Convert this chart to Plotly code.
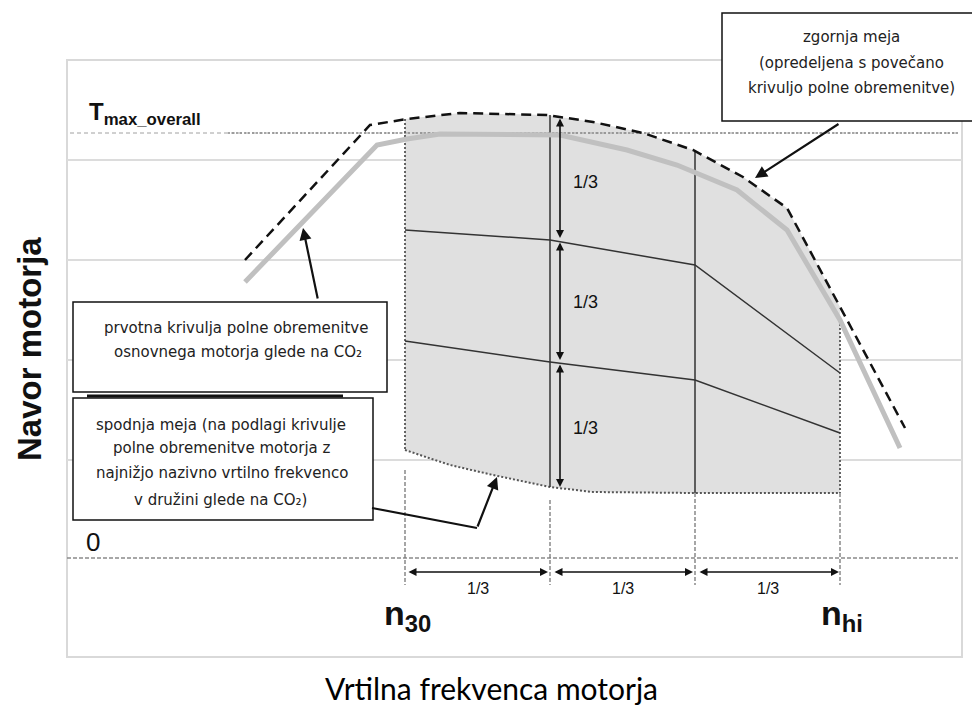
import plotly.graph_objects as go

# ---------------- data (x = engine speed units, y = torque units) ----------------
# original full-load curve of the parent engine
base_speed  = [245, 377, 407, 440, 560, 627, 677, 737, 787, 840, 900]
base_torque = [278, 415, 421, 426, 425, 410, 395, 370, 330, 240, 112]

# upper limit (increased full-load curve)
upper_speed  = [245, 370, 407, 460, 547, 593, 643, 693, 743, 787, 905]
upper_torque = [300, 435, 441, 447, 445, 438, 427, 410, 383, 352, 132]

# lower limit (full-load curve of engine with lowest rated speed)
lower_speed  = [405, 450, 493, 550, 593, 693, 840]
lower_torque = [110, 95, 85, 73, 68, 67, 67]

# shaded region upper boundary between n30 and nhi
region_top_speed  = [405, 460, 547, 593, 643, 693, 743, 787, 840]
region_top_torque = [441, 447, 445, 438, 427, 410, 383, 352, 253]

# interior 1/3 lines
mid_hi_speed  = [405, 550, 695, 840]
mid_hi_torque = [330, 320, 295, 187]
mid_lo_speed  = [405, 550, 695, 840]
mid_lo_torque = [219, 198, 180, 127]

# speed points
n30, n_a, n_b, nhi = 405, 550, 695, 840
T_MAX_OVERALL = 427
T_ZERO = 2
gridline_torque = [100, 200, 300, 400]

third_label = "1/3"
x_title = "Vrtilna frekvenca motorja"
y_title = "Navor motorja"

# ---------------- figure ----------------
# page body has an 8px margin; figure is sized so it ends at the window edge
OFF = 8
W, H = 980 - OFF, 715 - OFF
PL, PR, PT, PB = 67, 962, 60, 657          # plot area in window pixels
ML, MT = PL - OFF, PT - OFF
MR, MB = W + OFF - PR, H + OFF - PB
X0, X1 = 67, 962
Y0, Y1 = -97, 500

def P(xp, yp):
    """window pixel position -> paper coords for layout items"""
    return (xp - PL) / (PR - PL), (PB - yp) / (PB - PT)

fig = go.Figure()

def line(x, y, color, width, dash="solid", **kw):
    fig.add_trace(go.Scatter(x=x, y=y, mode="lines", line=dict(color=color, width=width, dash=dash),
                             hoverinfo="skip", showlegend=False, **kw))

# shaded region
fig.add_trace(go.Scatter(
    x=region_top_speed + [nhi] + lower_speed[::-1],
    y=region_top_torque + [lower_torque[-1]] + lower_torque[::-1],
    fill="toself", fillcolor="#e0e0e0", mode="none", hoverinfo="skip", showlegend=False))

# reference lines
line([70, 958], [T_MAX_OVERALL, T_MAX_OVERALL], "#a0a0a0", 1, "4px,3px")
line([228, 958], [T_MAX_OVERALL, T_MAX_OVERALL], "#8a8a8a", 1.6, "2px,2px")
line([67, 958], [T_ZERO, T_ZERO], "#8a8a8a", 1.6, "4px,2px")

# boundary dotted lines
line([n30, n30], [region_top_torque[0], lower_torque[0]], "#555555", 1.8, "2px,2px")
line([nhi, nhi], [region_top_torque[-1] - 13, lower_torque[-1]], "#555555", 1.8, "2px,2px")
line(lower_speed, lower_torque, "#555555", 2, "2px,2px")

# lower dotted verticals
line([n30, n30], [90, -25], "#777777", 1.3, "4px,2px")
line([n_a, n_a], [60, -25], "#777777", 1.3, "4px,2px")
line([n_b, n_b], [67, -25], "#777777", 1.3, "4px,2px")
line([nhi, nhi], [67, -25], "#777777", 1.3, "4px,2px")

# interior lines
line(mid_hi_speed, mid_hi_torque, "#333333", 1.5)
line(mid_lo_speed, mid_lo_torque, "#333333", 1.5)
line([n_a, n_a], [445, 73], "#333333", 1.5)
line([n_b, n_b], [410, 67], "#333333", 1.5)

# curves
line(base_speed, base_torque, "#c0c0c0", 5)
line(upper_speed, upper_torque, "#111111", 2.5, "10px,6px")

annotations = []
shapes = []

def dbl_arrow(x0, y0, x1, y1):
    annotations.append(dict(x=x1, y=y1, ax=x0, ay=y0, xref="x", yref="y", axref="x", ayref="y",
                            text="", showarrow=True, arrowhead=2, startarrowhead=2,
                            arrowside="end+start", arrowsize=1, startarrowsize=1,
                            arrowwidth=1.6, arrowcolor="#111111"))

def arrow(x0, y0, x1, y1):
    annotations.append(dict(x=x1, y=y1, ax=x0, ay=y0, xref="x", yref="y", axref="x", ayref="y",
                            text="", showarrow=True, arrowhead=2, arrowsize=1.1,
                            arrowwidth=2.2, arrowcolor="#111111"))

def text(xp, yp, s, size, family="Liberation Sans", color="#111111", angle=0, **kw):
    xx, yy = P(xp, yp)
    annotations.append(dict(x=xx, y=yy, xref="paper", yref="paper", text=s, showarrow=False,
                            textangle=angle, xanchor="center", yanchor="middle",
                            font=dict(family=family, size=size, color=color), **kw))

def box(x0p, y0p, x1p, y1p, width=1.5):
    a, b = P(x0p, y0p)
    c, d = P(x1p, y1p)
    shapes.append(dict(type="rect", xref="paper", yref="paper", x0=a, y0=d, x1=c, y1=b,
                       line=dict(color="#111111", width=width), fillcolor="white", layer="above"))

# vertical 1/3 arrows at speed 560
dbl_arrow(560, 443, 560, 322)
dbl_arrow(560, 319, 560, 200)
dbl_arrow(560, 197, 560, 73)
text(585, 182, third_label, 18)
text(585, 302, third_label, 18)
text(585, 428, third_label, 18)

# horizontal 1/3 arrows
dbl_arrow(407, -12, 548, -12)
dbl_arrow(553, -12, 693, -12)
dbl_arrow(698, -12, 839, -12)
text(478, 588, third_label, 16)
text(623, 588, third_label, 16)
text(768, 588, third_label, 16)

# frame
shapes.append(dict(type="rect", xref="paper", yref="paper", x0=0, y0=0, x1=1, y1=1,
                   line=dict(color="#d9d9d9", width=2), layer="below"))

# boxes
box(722, 13, 973, 121)
box(73, 302, 387, 392)
box(73, 398, 373, 520)
a, b = P(87, 396); c, _ = P(343, 396)
shapes.append(dict(type="line", xref="paper", yref="paper", x0=a, x1=c, y0=b, y1=b,
                   line=dict(color="#111111", width=3), layer="above"))

# arrows from boxes
arrow(840, 437, 755, 382)
arrow(318, 260, 303, 332)
shapes.append(dict(type="path", xref="x", yref="y", path="M 372 52 L 477 32",
                   line=dict(color="#111111", width=2.2), layer="above"))
arrow(477, 32, 497, 83)

BF = "DejaVu Sans"
BS = 15
BC = "#222222"
text(851, 37, "zgornja meja", BS, BF, BC)
text(851, 63, "(opredeljena s povečano", BS, BF, BC)
text(851, 88, "krivuljo polne obremenitve)", BS, BF, BC)
text(236, 328, "prvotna krivulja polne obremenitve", BS, BF, BC)
text(238, 352, "osnovnega motorja glede na CO₂", BS, BF, BC)
text(221, 425, "spodnja meja (na podlagi krivulje", BS, BF, BC)
text(222, 448, "polne obremenitve motorja z", BS, BF, BC)
text(222, 473, "najnižjo nazivno vrtilno frekvenco", BS, BF, BC)
text(220, 500, "v družini glede na CO₂)", BS, BF, BC)

# labels
text(145, 114, "<b>T<sub>max_overall</sub></b>", 24)
text(93, 542, "0", 26)
text(407, 615, "<b>n<sub>30</sub></b>", 34)
text(842, 615, "<b>n<sub>hi</sub></b>", 34)
text(29, 349, "<b>" + y_title + "</b>", 33, angle=-90)
text(491, 688, x_title, 30, "Lato", "#000000")

fig.update_layout(
    width=W, height=H, margin=dict(l=ML, r=MR, t=MT, b=MB),
    paper_bgcolor="white", plot_bgcolor="white",
    xaxis=dict(range=[X0, X1], showgrid=False, zeroline=False, showticklabels=False,
               ticks="", showline=False, fixedrange=True),
    yaxis=dict(range=[Y0, Y1], tickvals=gridline_torque, showgrid=True, gridcolor="#dcdcdc",
               gridwidth=2, zeroline=False, showticklabels=False, ticks="", showline=False,
               fixedrange=True),
    annotations=annotations, shapes=shapes, showlegend=False,
)

fig.write_html("out.html")
